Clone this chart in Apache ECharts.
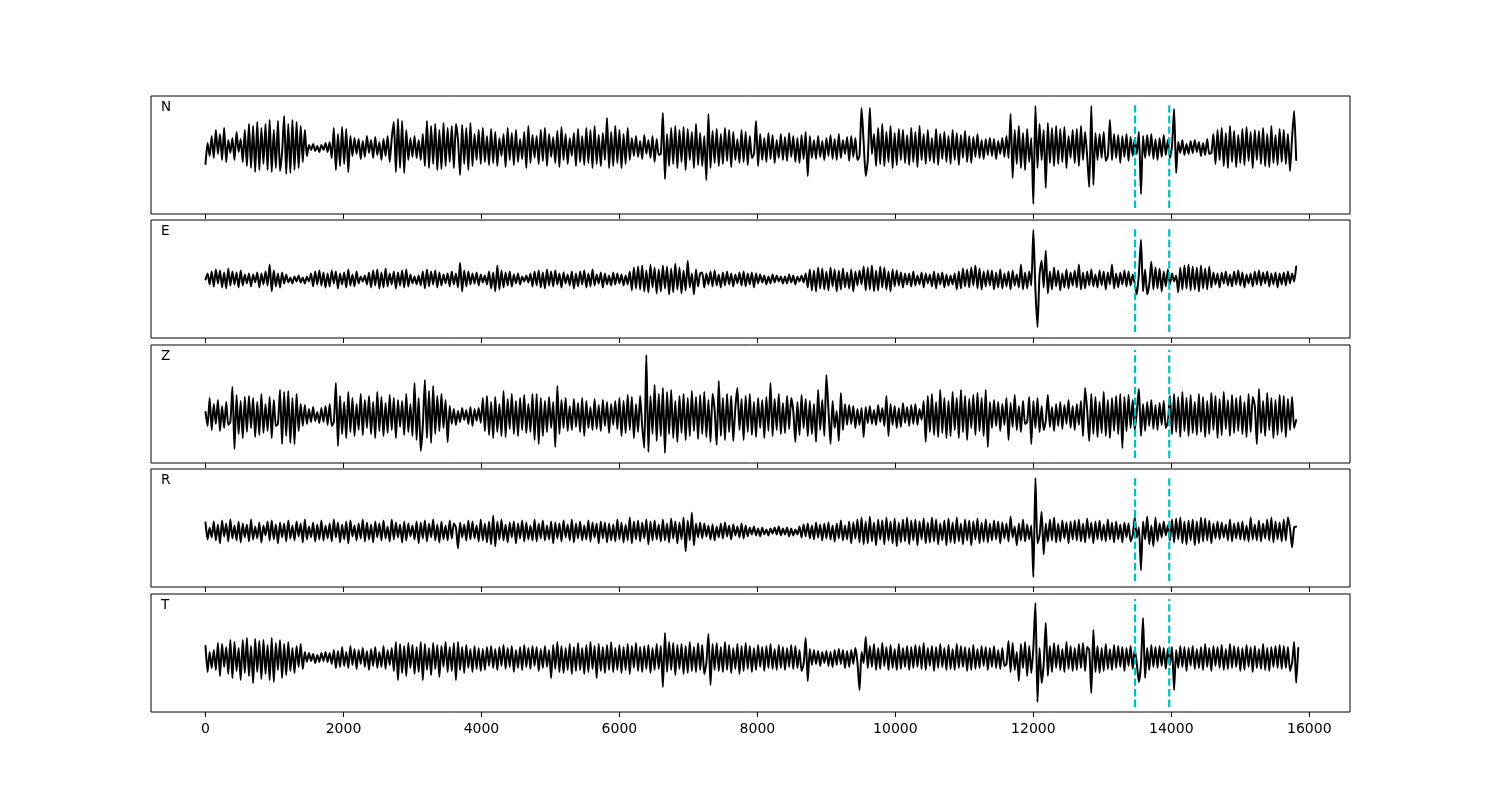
<!DOCTYPE html>
<html><head><meta charset="utf-8">
<script src="https://cdn.jsdelivr.net/npm/echarts@6/dist/echarts.min.js"></script>
<style>html,body{margin:0;padding:0;background:#fff}#chart{width:1500px;height:800px}</style>
</head><body><div id="chart"></div>
<script>
// sampling interval of the traces (x units)
const sampleStep = 30;
const channels = ['N', 'E', 'Z', 'R', 'T'];

const traceN = [
-16,5,-8,12,-10,18,-6,14,-12,20,-14,8,-5,10,-12,16,-4,9,-14,18,
-18,24,-20,22,-24,26,-22,20,-16,24,-22,28,-24,18,-20,27,-23,-4,32,-26,
24,-25,28,-22,26,-20,22,-14,18,-8,3,-2,4,-3,2,-4,3,-2,5,-4,
6,-10,20,-22,14,-18,21,-16,19,-24,12,-8,10,-6,9,-11,7,-9,12,-5,
8,-10,11,-7,6,-12,9,-8,12,-14,10,26,-24,29,-20,27,-25,18,-12,10,
-9,12,-10,8,-12,14,-18,27,-20,22,-16,24,-22,18,-21,25,-18,20,-14,22,
-20,24,8,-27,23,-16,20,-22,25,-18,14,-12,18,-16,20,-14,12,-17,19,-15,
16,-18,10,-8,14,-19,20,-12,15,-17,18,-14,9,-11,16,-20,22,-15,13,-10,
12,-16,18,-13,20,-18,14,-9,11,-15,17,-19,21,-12,14,-16,10,-8,15,-18,
19,-14,12,-17,20,-15,18,-20,22,-16,13,-18,15,-12,30,-20,16,-18,22,-15,
18,-20,14,-16,20,-12,10,-8,12,-9,7,-11,13,-6,8,-10,12,-14,9,-7,
-6,35,-31,14,-18,20,-16,22,-20,18,-14,21,-22,19,-12,16,-20,24,-17,15,
-18,12,-32,34,-20,17,-15,19,-18,14,-16,20,-13,18,-19,16,-12,9,-15,18,
-14,16,-17,12,-10,-6,27,-18,14,-12,10,-14,15,-11,13,-15,8,-10,14,-12,
11,-13,15,-9,12,-14,10,-15,13,-11,16,-28,12,-10,8,-11,12,-9,7,-12,
10,-8,13,-11,9,-12,14,-10,8,-6,11,-13,12,-9,10,-12,-8,40,6,-28,
-12,40,-6,14,-18,20,-16,24,-18,16,-14,22,-20,15,-17,19,-12,18,-15,13,
-17,20,-14,16,-19,22,-12,14,-16,18,-13,10,-15,19,-17,14,-11,16,-14,12,
-16,18,-12,15,-17,13,-10,17,-14,12,-15,11,-9,14,-10,8,-11,9,-7,10,
-8,9,-11,7,-6,10,-9,12,-10,34,-30,18,-16,22,-20,15,-22,19,-14,10,
-56,42,-20,24,-12,18,-40,25,-15,20,-18,22,-16,19,-14,21,-20,12,-10,18,
-15,19,-18,22,-12,16,-8,-39,42,-37,15,-12,14,-10,16,-13,-8,28,-12,14,
-10,13,-15,12,-9,14,-13,11,-8,10,-6,16,-46,12,-10,13,-8,14,-11,9,
-12,10,-9,13,-7,8,-10,2,39,-25,6,-5,8,-7,4,-6,7,-5,8,-4,
6,-8,5,-7,9,-6,-5,14,-16,18,-12,20,-18,15,-20,22,-14,17,-19,13,
-15,19,-17,21,-13,16,-20,18,-12,17,-16,20,-18,14,-19,22,-15,13,-17,19,
-14,18,-16,14,-23,10,37,-12
];

const traceE = [
0,6,-5,8,-7,10,-4,9,-8,7,-9,11,-6,8,-5,7,-8,9,-6,5,
-4,6,-7,5,-3,7,-8,6,-5,8,-6,15,-12,9,-7,6,-8,7,-4,5,
-3,2,-4,3,-2,4,-3,2,-4,3,-2,6,-7,8,-5,9,-6,7,-8,6,
-7,9,-4,8,-9,6,-5,7,-8,10,-6,5,-7,8,-4,3,-2,4,-5,7,
-8,9,-6,10,-9,7,-8,11,-7,6,-5,8,-9,7,-6,9,-8,10,-7,5,
-4,3,-5,4,-6,8,-9,10,-7,8,-5,9,-8,7,-6,5,-4,6,-7,8,
-5,6,-8,17,-12,9,-7,8,-5,6,-4,7,-6,5,-3,4,-5,8,-9,7,
-12,14,-10,9,-8,7,-6,8,-7,5,-4,6,-5,3,-2,4,-3,6,-7,8,
-6,9,-8,7,-9,10,-6,8,-7,9,-5,6,-8,7,-4,5,-6,8,-9,6,
-7,8,-5,9,-8,6,-7,10,-6,5,-4,7,-8,6,-5,4,-6,7,-5,6,
-4,5,-6,4,-5,8,-11,12,-9,13,-10,14,-12,9,-13,15,-8,12,-14,10,
-12,14,-9,13,-15,11,-13,16,-10,12,-14,9,-11,19,-8,6,-15,10,-7,6,
7,-8,6,-5,8,-7,9,-6,5,-8,7,-6,8,-5,6,-7,5,-4,7,-6,
8,-7,6,-5,7,-8,6,-4,5,-3,4,-5,3,-4,5,-3,4,-2,3,-4,
3,-4,5,-3,4,-5,3,-2,4,-3,6,-8,10,-11,9,-12,12,-9,11,-10,
8,-11,12,-7,10,-12,9,-10,11,-8,7,-9,10,-12,8,-6,9,-5,13,-11,
12,-10,14,-12,9,-11,13,-8,12,-10,8,-12,10,-7,9,-6,7,-8,6,-5,
6,-7,8,-6,4,-5,7,-8,6,-4,5,-7,8,-9,6,-5,7,-8,5,-6,
4,-5,6,-10,8,-9,11,-7,10,-8,12,-6,14,-9,11,-10,8,-7,9,-6,
9,-10,7,-8,10,-9,6,-7,8,-10,9,-6,5,-8,15,-10,7,-9,8,-6,
50,-10,-48,5,19,-8,29,-14,8,-10,12,-7,9,-11,6,-8,10,-9,7,-6,
9,-8,15,-10,7,-9,8,-6,10,-7,5,-8,9,-6,8,-10,7,-5,15,-9,
6,-8,7,-5,9,-7,8,-6,5,-4,-15,6,40,-12,10,-15,-5,18,-10,12,
-9,11,-12,8,-7,10,-5,6,-2,4,-13,12,-10,14,-9,15,-11,13,-10,12,
-12,14,-9,11,-10,13,-8,7,-5,6,-8,7,-4,8,-6,5,-7,8,-5,9,
-6,7,-8,5,-4,6,-7,8,-5,9,-6,7,-4,8,-7,6,-5,7,-8,6,
-5,7,-6,8,-4,6,-2,13
];

const traceZ = [
4,-10,18,-14,12,-8,16,-15,10,-12,14,-9,-6,29,-33,21,-18,15,-22,19,
-16,20,-12,18,-21,14,-19,22,-17,12,-15,19,-22,16,-10,-8,26,-28,24,-20,
25,-27,18,-28,22,-15,12,-10,11,-8,7,-6,9,-5,4,-7,8,-6,10,-9,
12,-10,-6,33,-30,20,-18,14,-22,24,-16,18,-20,12,-14,22,-19,16,-12,20,
-18,14,-22,24,-15,19,-20,13,-17,21,-14,18,-22,16,-11,15,-19,22,-16,12,
-20,33,-24,18,-35,-10,36,-22,25,-27,30,-18,20,-15,22,-12,16,-26,10,-8,
7,-9,5,-6,8,-4,6,-8,9,-10,7,-5,8,-7,18,-15,20,-19,14,-22,
19,-16,12,-20,25,-21,17,-13,22,-18,15,-20,18,-14,21,-17,12,-16,22,-24,
22,-28,18,-20,15,-16,19,-12,14,-31,30,-18,16,-12,18,-15,10,-14,17,-11,
13,-16,18,-20,15,-12,9,-14,17,-13,11,-15,16,-10,14,-17,12,-9,15,-13,
18,-20,15,-17,21,-14,19,-22,12,-16,20,-10,-32,61,-36,20,-18,31,-25,22,
-20,28,-37,24,-18,26,-22,15,-26,20,-17,22,-24,18,-20,25,-15,19,-23,21,
-18,24,-21,16,-26,22,6,-29,35,-20,18,-24,22,-16,20,-25,8,28,-14,17,
-24,20,-16,22,-19,14,-21,18,-12,16,-22,19,-15,33,-20,17,-14,22,-18,13,
-17,20,-13,18,5,-26,14,-19,21,-12,17,-20,15,-18,12,-26,26,-14,16,-20,
41,6,-28,15,-12,5,-25,23,-14,12,-9,11,-8,10,-12,7,-9,8,-21,9,
-7,10,-8,6,-9,11,-6,8,-10,20,-20,12,-9,10,-12,8,-11,13,-7,9,
-10,11,-8,12,-9,7,-4,15,-26,20,-16,22,-19,14,-21,26,-17,18,-22,15,
-20,24,-14,18,-22,26,-16,20,-24,17,-12,21,-19,23,-15,18,-20,26,-31,14,
-12,16,-10,14,-15,12,-9,18,-24,13,-11,21,-14,10,-16,15,-8,-6,19,-28,
15,-12,18,-16,10,-14,-5,21,-11,9,-15,12,-10,14,-13,11,-8,16,-12,10,
-14,12,-9,15,-20,28,6,-25,22,-18,19,-21,14,-17,24,-20,16,-22,18,-15,
20,-18,22,-32,19,-15,21,-12,16,-14,4,27,-20,12,-15,14,-10,16,-13,11,
-14,13,-9,15,-12,-6,20,-18,22,-16,19,-21,24,-15,18,-20,21,-17,14,-19,
22,-16,19,-21,15,-18,23,-14,20,-22,17,-19,24,-13,16,-20,21,-17,18,-15,
20,-18,14,-21,22,-16,19,10,-28,27,-17,15,-20,23,-14,18,-22,16,-19,21,
-16,20,-21,17,-14,19,-12,-4
];

const traceR = [
9,-8,4,-6,10,-9,7,-12,11,-5,8,-10,12,-7,6,-9,10,-11,8,-6,
7,-10,12,-8,5,-7,9,-11,6,-4,10,-9,11,-8,7,-12,9,-6,8,-10,
11,-7,6,-9,10,-5,8,-11,12,-8,5,-6,9,-10,7,-8,11,-9,6,-7,
8,-10,12,-6,9,-11,7,-8,10,-12,11,-5,6,-9,8,-7,12,-10,9,-8,
7,-11,10,-6,8,-9,11,-7,5,-10,12,-8,9,-6,7,-11,10,-9,8,-5,
6,-8,10,-12,9,-7,11,-10,8,-6,12,-9,7,-11,10,-8,6,-9,11,-7,
8,4,-17,9,-6,7,-9,11,-8,10,-7,6,-10,12,-9,8,-11,10,-13,16,
-15,10,-8,12,-9,7,-11,9,-6,10,-12,8,-7,11,-10,9,-8,6,-9,12,
-10,8,-7,11,-9,6,-8,10,-12,9,-7,8,-10,11,-6,7,-9,12,-11,8,
-7,10,-9,6,-8,11,-10,9,-6,8,-12,10,-7,9,-11,8,-9,7,-10,12,
-8,9,-11,7,-9,14,-12,10,-8,11,-10,9,-7,12,-13,10,-9,11,-8,7,
-10,12,-9,8,-11,13,-7,10,-12,9,-8,14,-20,11,-9,19,-14,8,-6,9,
-7,8,-5,6,-8,7,-9,5,-6,8,-7,9,-5,6,-8,7,-4,5,-6,8,
-7,6,-5,4,-3,5,-4,3,-5,4,-3,2,-4,3,-2,4,-3,5,-4,3,
-3,4,-5,3,-4,2,-3,5,-6,7,-5,8,-7,6,-8,9,-6,7,-9,8,
-7,9,-8,6,-10,8,-7,11,-9,6,-8,10,-12,9,-7,12,-11,14,-13,10,
-12,15,-10,9,-14,12,-8,11,-13,14,-9,10,-12,13,-15,9,-11,12,-10,14,
-13,11,-9,12,-14,10,-8,13,-12,9,-11,14,-10,12,-13,8,-9,11,-14,13,
-11,9,-12,14,-10,8,-13,12,-9,11,-14,10,-8,13,-12,9,-10,12,-11,8,
-9,11,-8,10,-12,9,-7,8,-10,15,-6,5,-14,8,-9,12,-10,7,-8,6,
-46,54,-12,-4,20,-23,8,-10,12,-9,14,-11,8,-10,11,-7,9,-12,10,-8,
11,-9,12,-10,8,-11,13,-7,9,-12,10,-8,11,-9,7,-10,12,-8,9,-11,
10,-8,7,-11,9,-6,8,-10,-4,14,-6,4,-39,10,-8,15,-13,6,-15,14,
-10,8,-6,10,-4,6,-9,12,-11,13,-8,14,-12,10,-13,11,-9,12,-14,10,
-12,14,-10,13,-9,11,-12,8,-7,10,-8,9,-6,7,-9,12,-10,8,-7,9,
-8,10,-9,6,-10,14,-8,7,-9,11,-10,8,-7,12,-9,14,-11,10,-8,9,
-10,12,-9,14,3,-16,4,5
];

const traceT = [
12,-14,6,-10,8,-12,15,-18,14,-9,11,-16,18,-20,16,-13,10,-22,18,-15,
20,-18,12,-25,19,-14,17,-21,18,-16,13,-22,20,-24,15,-12,18,-20,14,-17,
16,-13,10,-15,12,-9,14,-11,6,-4,5,-3,4,-5,3,-4,5,-3,6,-4,
5,-6,8,-10,7,-9,11,-8,6,-10,12,-7,9,-11,8,-6,10,-9,7,-12,
9,-8,11,-10,6,-9,12,-11,8,-7,10,-13,16,-22,14,-15,12,-18,15,-10,
13,-16,11,-14,16,-22,14,-12,10,-17,15,-11,13,-19,12,-9,16,-14,11,-13,
15,-22,16,-12,11,-15,13,-10,9,-14,12,-11,10,-13,9,-12,11,-8,12,-10,
9,-12,11,-8,13,-11,10,-9,12,-14,8,-10,11,-12,13,-9,10,-11,12,-8,
11,-13,9,-10,12,-9,8,-20,13,-11,16,-14,12,-15,10,-12,14,-16,11,-13,
15,-12,10,-16,13,-14,16,-11,12,-20,14,-13,11,-15,13,-12,16,-14,10,-12,
13,-15,11,-12,14,-16,12,-10,15,-13,11,-14,12,-11,13,-15,10,-12,14,-11,
12,-29,25,-14,16,-12,15,-17,13,-11,14,-16,12,-15,16,-13,11,-14,15,-12,
13,-16,-5,24,-27,14,-12,15,-13,11,-14,16,-12,13,-15,10,-11,14,-16,12,
-13,15,-11,12,-14,10,-12,13,-9,11,-13,12,-10,14,-11,9,-12,13,-10,11,
-12,10,-9,13,-11,12,-10,8,-13,-6,20,-23,9,-7,8,-6,7,-8,6,-5,
7,-8,6,-9,8,-7,9,-6,8,-10,7,-9,8,-6,10,-4,-32,6,-5,21,
-10,12,-9,14,-12,10,-11,15,-8,11,-12,13,-10,9,-12,14,-11,10,-9,12,
-12,11,-10,13,-9,12,-11,15,-12,10,-8,12,-13,11,-10,14,-9,10,-12,13,
-11,9,-12,14,-10,12,-9,11,-13,10,-12,13,-11,9,-10,12,-8,11,-12,10,
-9,12,-10,8,-11,10,-8,-6,17,-14,15,-12,6,-23,14,-10,16,-18,12,-15,10,
55,-44,10,-25,-6,35,-18,12,-14,15,-10,13,-12,9,-14,16,-11,12,-13,10,
-12,14,-10,15,-13,11,8,-35,28,-14,12,-15,10,-13,14,-11,9,-12,13,-10,
12,-9,11,-13,10,-8,12,-11,9,-6,-24,-6,40,-20,10,-12,13,-9,11,-10,
12,-8,10,-11,9,-7,11,-32,8,-10,12,-9,11,-13,10,-8,12,-11,9,-10,
11,-12,14,-9,10,-13,12,-8,11,-10,13,-12,9,-11,14,-10,12,-9,11,-13,
10,-12,13,-9,11,-14,12,-10,9,-11,14,-12,10,-13,11,-9,12,-10,13,-11,
12,-10,11,-13,-5,16,-25,10
];

const traces = [traceN, traceE, traceZ, traceR, traceT];

// vertical limits of each panel and extent of the dashed marker lines
const yMin = [-66, -59, -47, -56, -54];
const yMax = [52, 60, 71, 63, 64];
const pickLow = [-60, -53, -42, -50, -49];
const pickHigh = [46, 53, 66, 57, 59];
const pickTimes = [13475, 13970];

const xMin = -790, xMax = 16590;
const xTicks = [0, 2000, 4000, 6000, 8000, 10000, 12000, 14000, 16000];

const panelTops = [96, 220, 345, 469, 594];
const panelHeight = 118;

const chart = echarts.init(document.getElementById('chart'), null, {renderer: 'canvas'});

const grids = [], xAxes = [], yAxes = [], series = [], titles = [];
channels.forEach((ch, i) => {
  grids.push({left: 151, width: 1199, top: panelTops[i], height: panelHeight,
    show: true, borderColor: '#000', borderWidth: 1, backgroundColor: 'transparent'});
  const last = i === channels.length - 1;
  xAxes.push({
    type: 'value', gridIndex: i, min: xMin, max: xMax, position: 'bottom',
    axisLine: {show: false, onZero: false},
    splitLine: {show: false},
    axisTick: {show: true, inside: false, length: 5, customValues: xTicks, lineStyle: {color: '#000', width: 1}},
    axisLabel: {show: last, customValues: xTicks, margin: 10, color: '#000', fontSize: 14,
      fontFamily: 'DejaVu Sans', formatter: v => String(v)}
  });
  yAxes.push({type: 'value', gridIndex: i, min: yMin[i], max: yMax[i], show: false});
  series.push({
    type: 'line', xAxisIndex: i, yAxisIndex: i, showSymbol: false, symbol: 'none',
    smooth: 0.2,
    data: traces[i].map((v, k) => [k * sampleStep, v]),
    lineStyle: {color: '#000', width: 2, join: 'round', cap: 'round'}, animation: false, silent: true, z: 2
  });
  pickTimes.forEach(t => {
    series.push({
      type: 'line', xAxisIndex: i, yAxisIndex: i, showSymbol: false, symbol: 'none',
      data: [[t, pickLow[i]], [t, pickHigh[i]]],
      lineStyle: {color: '#00bfbf', width: 2.2, type: [7.4, 3.2]}, animation: false, silent: true, z: 3
    });
  });
  titles.push({text: ch, left: 161, top: panelTops[i] + 4, padding: 0,
    textStyle: {fontSize: 13.5, fontWeight: 'normal', color: '#000', fontFamily: 'DejaVu Sans'}});
});

chart.setOption({
  animation: false,
  backgroundColor: '#fff',
  title: titles,
  grid: grids,
  xAxis: xAxes,
  yAxis: yAxes,
  series: series
});
</script>
</body></html>
